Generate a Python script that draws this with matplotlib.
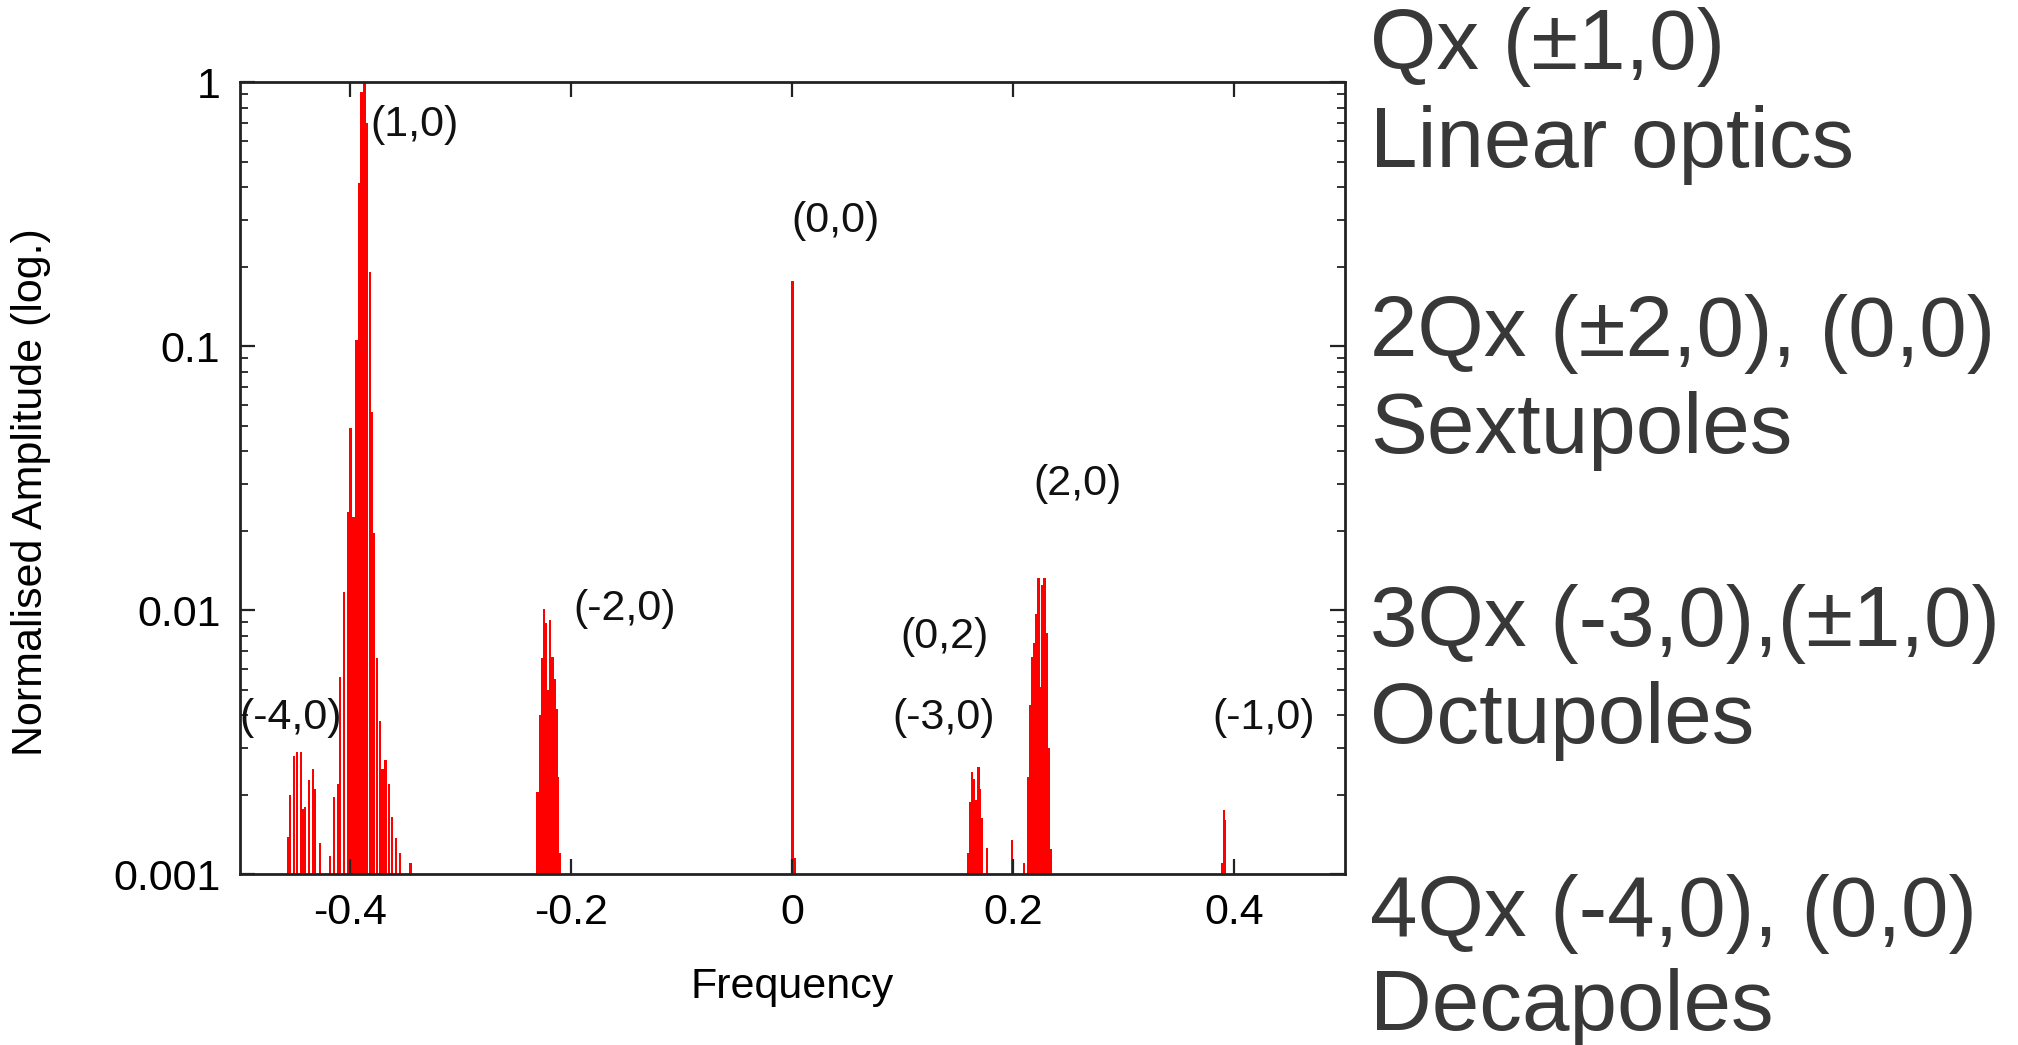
import matplotlib
matplotlib.use("Agg")
import matplotlib.pyplot as plt
from matplotlib.ticker import FixedLocator, LogLocator, NullFormatter, FixedFormatter

plt.rcParams['font.family'] = ['Liberation Sans', 'DejaVu Sans']

# ---- data: spectral lines (frequency, normalised amplitude) ----
freq_m40 = [-0.4567, -0.4547, -0.4511, -0.4486, -0.4450, -0.4434, -0.4414,
            -0.4377, -0.4341, -0.4322, -0.4278]
amp_m40 = [0.00138, 0.0020, 0.0028, 0.0029, 0.0029, 0.00177, 0.0018,
           0.00228, 0.0025, 0.0021, 0.00131]

freq_10 = [-0.4187, -0.4150, -0.4112, -0.4094, -0.4060, -0.4022, -0.3999,
           -0.3972, -0.3945, -0.3922, -0.3899, -0.3872, -0.3848, -0.3824,
           -0.3804, -0.3786, -0.3759, -0.3732, -0.3709, -0.3682, -0.3652,
           -0.3621, -0.3585, -0.3551, -0.3456]
amp_10 = [0.00117, 0.00196, 0.0022, 0.0056, 0.0117, 0.0236, 0.049,
          0.0226, 0.105, 0.413, 0.92, 1.0, 0.70, 0.191,
          0.0564, 0.0196, 0.0066, 0.0038, 0.0025, 0.0027, 0.0022,
          0.00165, 0.00137, 0.0012, 0.0011]

freq_m20 = [-0.2308, -0.2287, -0.2269, -0.2248, -0.2233, -0.2217, -0.2194,
            -0.2172, -0.2152, -0.2133, -0.2121, -0.2103]
amp_m20 = [0.00205, 0.0040, 0.00656, 0.0101, 0.0089, 0.0050, 0.0092,
           0.00665, 0.0055, 0.0042, 0.00233, 0.0012]

freq_00 = [0.0000, 0.0018]
amp_00 = [0.177, 0.00115]

freq_02 = [0.1587, 0.1608, 0.1626, 0.1641, 0.1660, 0.1683, 0.1698,
           0.1716, 0.1759, 0.1985, 0.2094]
amp_02 = [0.0012, 0.00188, 0.00244, 0.0023, 0.0019, 0.00255, 0.0021,
          0.00163, 0.00125, 0.00135, 0.0011]

freq_20 = [0.2130, 0.2151, 0.2169, 0.2188, 0.2206, 0.2226, 0.2245,
           0.2260, 0.2281, 0.2303, 0.2321, 0.2341]
amp_20 = [0.00234, 0.00437, 0.00665, 0.0075, 0.0097, 0.0132, 0.0051,
          0.0124, 0.0132, 0.0082, 0.0030, 0.00124]

freq_m10 = [0.3890, 0.3902, 0.3915]
amp_m10 = [0.0011, 0.00175, 0.0016]

# peak labels
label_text = ["(1,0)", "(0,0)", "(-2,0)", "(2,0)", "(0,2)", "(-3,0)", "(-1,0)", "(-4,0)"]
label_x = [-0.342, 0.0385, -0.1517, 0.2577, 0.1372, 0.1372, 0.4262, -0.4543]
label_y = [0.69, 0.297, 0.0101, 0.030, 0.0079, 0.0039, 0.0039, 0.0039]

x_ticks = [-0.4, -0.2, 0, 0.2, 0.4]
x_ticklabels = ["-0.4", "-0.2", "0", "0.2", "0.4"]
y_ticks = [0.001, 0.01, 0.1, 1]
y_ticklabels = ["0.001", "0.01", "0.1", "1"]

side_lines = ["Qx (\u00b11,0)", "Linear optics",
              "2Qx (\u00b12,0), (0,0)", "Sextupoles",
              "3Qx (-3,0),(\u00b11,0)", "Octupoles",
              "4Qx (-4,0), (0,0)", "Decapoles"]

# ---- figure ----
fig = plt.figure(figsize=(20.18, 10.45), dpi=100)
ax = fig.add_axes([0.1189, 0.1636, 0.5476, 0.7579])

base = 0.001
all_f = freq_m40 + freq_10 + freq_m20 + freq_00 + freq_02 + freq_20 + freq_m10
all_a = amp_m40 + amp_10 + amp_m20 + amp_00 + amp_02 + amp_20 + amp_m10
ax.bar(all_f, [a - base for a in all_a], bottom=base, width=0.0021,
       color='#ff0000', linewidth=0)

ax.set_yscale('log')
ax.set_xlim(-0.5, 0.5)
ax.set_ylim(0.001, 1)

ax.xaxis.set_major_locator(FixedLocator(x_ticks))
ax.xaxis.set_major_formatter(FixedFormatter(x_ticklabels))
ax.yaxis.set_major_locator(FixedLocator(y_ticks))
ax.yaxis.set_major_formatter(FixedFormatter(y_ticklabels))
ax.yaxis.set_minor_locator(LogLocator(base=10, subs=range(2, 10)))
ax.yaxis.set_minor_formatter(NullFormatter())

ax.tick_params(which='major', direction='in', length=11, width=1.6,
               top=True, right=True, labelsize=31, pad=14, colors='#222222')
ax.tick_params(which='minor', direction='in', length=6, width=1.3,
               left=True, right=True, top=False, bottom=False, colors='#222222')
for lab in ax.get_xticklabels() + ax.get_yticklabels():
    lab.set_color('black')
for s in ax.spines.values():
    s.set_linewidth(2.0)
    s.set_color('#222222')

ax.set_xlabel("Frequency", fontsize=31)
ax.xaxis.set_label_coords(0.5, -0.118)
ax.set_ylabel("Normalised Amplitude (log.)", fontsize=31)
ax.yaxis.set_label_coords(-0.171, 0.482)

for t, x, y in zip(label_text, label_x, label_y):
    ax.text(x, y, t, fontsize=31, ha='center', va='center', color='#111111')

side_y = [0.9335, 0.840, 0.659, 0.5665, 0.382, 0.289, 0.1047, 0.0144]
for t, y in zip(side_lines, side_y):
    fig.text(0.679, y, t, fontsize=61.5, color='#383838', ha='left', va='baseline')

fig.savefig("out.png", dpi=100)
